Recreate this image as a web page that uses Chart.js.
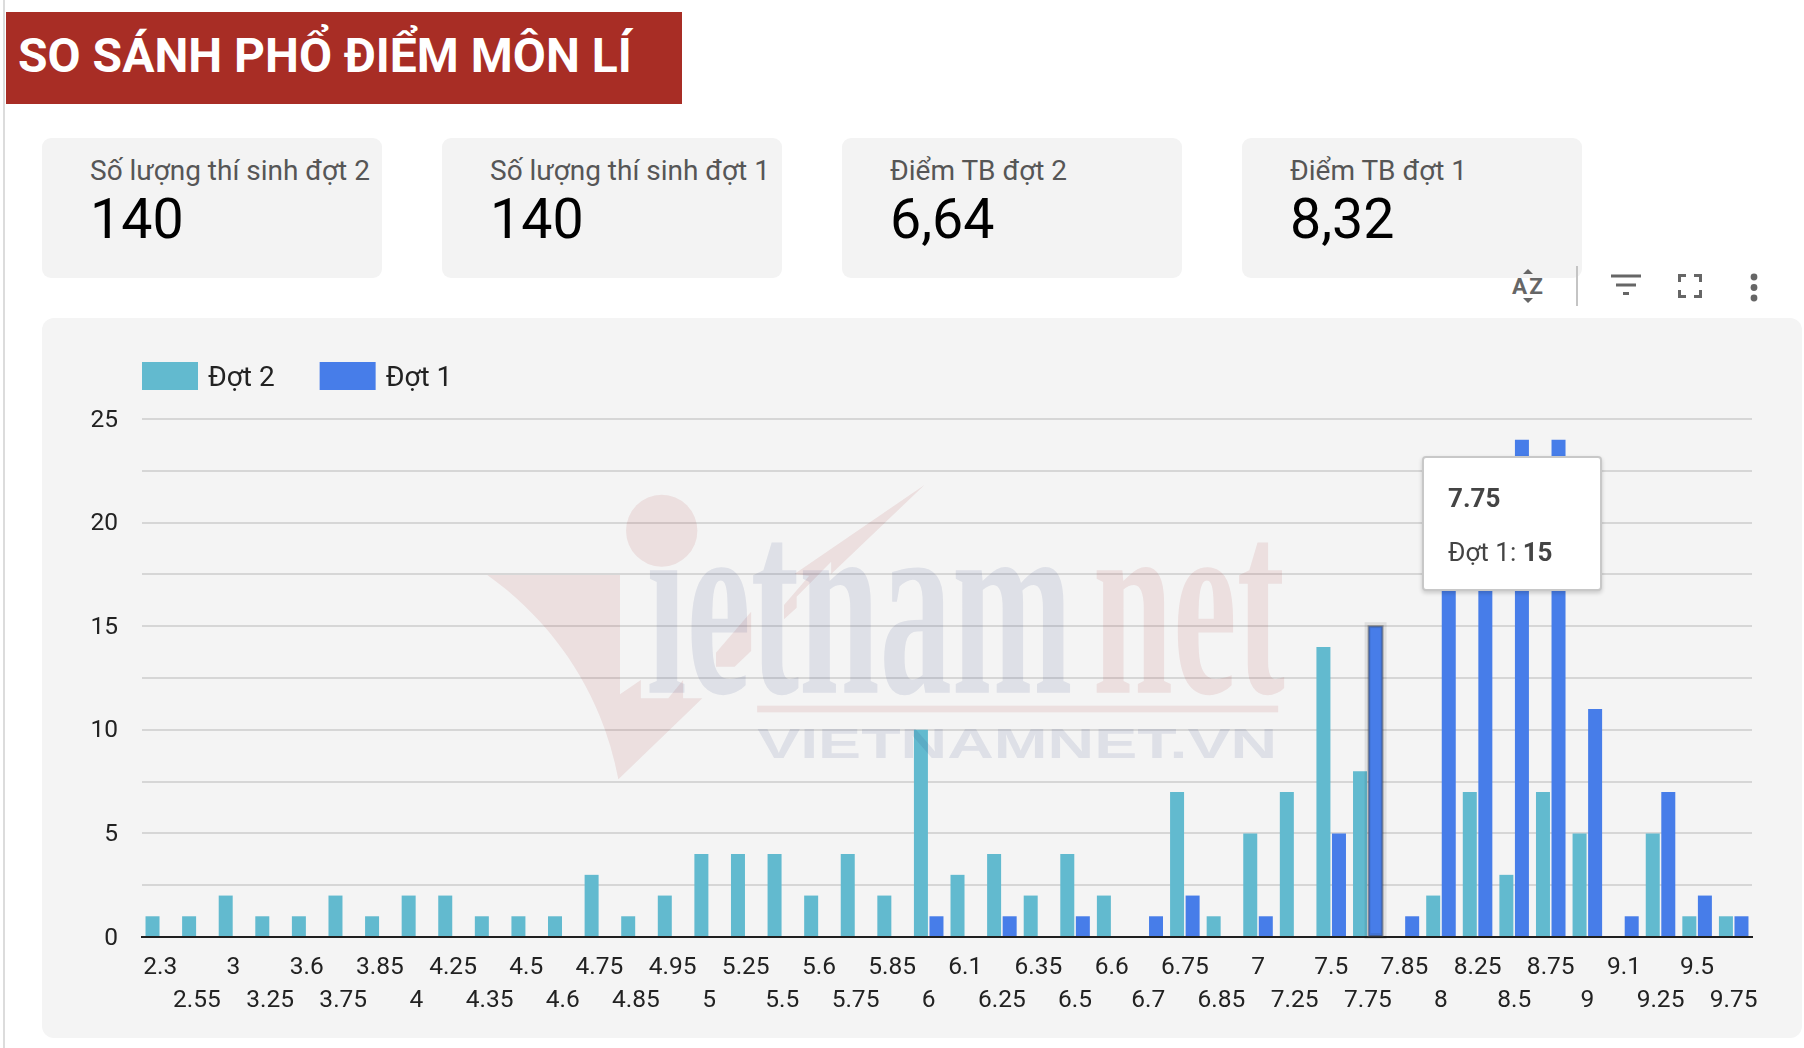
<!DOCTYPE html>
<html lang="vi">
<head>
<meta charset="utf-8">
<title>So sánh phổ điểm môn Lí</title>
<script src="https://cdn.jsdelivr.net/npm/chart.js@4"></script>
<style>
html,body{margin:0;padding:0;background:#fff;width:1804px;height:1048px;overflow:hidden;font-family:Roboto,sans-serif}
.abs{position:absolute}
#edge{left:3px;top:0;width:2px;height:1048px;background:#dcdcdc}
#title{left:6px;top:12px;width:676px;height:92px;background:#a82d25;color:#fff;font-weight:700;font-size:48px;line-height:88px;padding-left:12px;box-sizing:border-box;white-space:nowrap}
.card{top:138px;width:340px;height:140px;background:#f3f3f3;border-radius:9px}
.card .lab{position:absolute;left:48px;top:17px;font-size:28px;line-height:32px;color:#565656;white-space:nowrap}
.card .val{position:absolute;left:48px;top:51px;font-size:55.5px;line-height:62px;color:#000;white-space:nowrap}
#panel{left:42px;top:318px;width:1760px;height:720px;background:#f4f4f4;border-radius:12px}
#c{position:absolute;left:0;top:0}
#wm{left:450px;top:460px;width:860px;height:340px;pointer-events:none}
#tip{left:1422px;top:456px;width:180px;height:135px;box-sizing:border-box;background:#fff;border:2px solid #c8c8c8;border-radius:4px;box-shadow:0 2px 4px rgba(0,0,0,.18);color:#444;font-size:26px;line-height:30px}
#tip .t{position:absolute;left:24px;top:25px;font-weight:700}
#tip .b{position:absolute;left:24px;top:79px;white-space:nowrap}
#tools{left:1500px;top:256px;width:280px;height:60px}
</style>
</head>
<body>
<div class="abs" id="edge"></div>
<div class="abs" id="title">SO SÁNH PHỔ ĐIỂM MÔN LÍ</div>
<div class="abs card" style="left:42px"><div class="lab">Số lượng thí sinh đợt 2</div><div class="val">140</div></div>
<div class="abs card" style="left:442px"><div class="lab">Số lượng thí sinh đợt 1</div><div class="val">140</div></div>
<div class="abs card" style="left:842px"><div class="lab">Điểm TB đợt 2</div><div class="val">6,64</div></div>
<div class="abs card" style="left:1242px"><div class="lab">Điểm TB đợt 1</div><div class="val">8,32</div></div>
<svg class="abs" id="tools" viewBox="0 0 280 60">
  <g fill="#666">
    <text x="12" y="38" font-family="Roboto" font-weight="700" font-size="22.5" textLength="31" lengthAdjust="spacing">AZ</text>
    <path d="M23 18l5-5 5 5zM23 42h10l-5 5z"/>
    <rect x="76" y="10" width="2" height="40" fill="#c4c4c4"/>
    <rect x="111" y="18.5" width="30" height="3"/><rect x="116" y="27.5" width="20" height="3"/><rect x="123" y="36" width="6" height="3"/>
    <path d="M178 18h8v3h-5v5h-3zM194 18h8v8h-3v-5h-5zM178 34h3v5h5v3h-8zM199 34h3v8h-8v-3h5z"/>
    <circle cx="254" cy="21" r="3.4"/><circle cx="254" cy="31.5" r="3.4"/><circle cx="254" cy="42" r="3.4"/>
  </g>
</svg>
<div class="abs" id="panel"></div>
<canvas id="c" width="1804" height="1048"></canvas>
<svg class="abs" id="wm" viewBox="0 0 1568 1020" preserveAspectRatio="none">
  <g fill="rgba(170,40,40,.1)">
    <ellipse cx="386" cy="212" rx="65" ry="108"/>
    <path d="M68 345H310V703L348 660V715H398L425 660V715H460L307 958C280 720 200 500 68 345Z"/>
    <path d="M628 342L865 75L695 342V305L632 410V443L609 478V435L655 347Z"/>
    <path d="M549 455V573L519 620H485V578Z"/>
    <rect x="560" y="737" width="950" height="20"/>
    <text x="1172" y="698" font-family="Liberation Serif" font-weight="700" font-size="800" textLength="350" lengthAdjust="spacingAndGlyphs">net</text>
  </g>
  <g fill="rgba(30,50,120,.1)">
    <text x="358" y="698" font-family="Liberation Serif" font-weight="700" font-size="800" textLength="777" lengthAdjust="spacingAndGlyphs">ıetnam</text>
    <text x="560" y="895" font-family="Liberation Sans" font-weight="700" font-size="125" textLength="948" lengthAdjust="spacingAndGlyphs">VIETNAMNET.VN</text>
  </g>
</svg>
<div class="abs" id="tip"><div class="t"></div><div class="b"></div></div>
<script>
const categories = ['2.3','2.55','3','3.25','3.6','3.75','3.85','4','4.25','4.35','4.5','4.6','4.75','4.85','4.95','5','5.25','5.5','5.6','5.75','5.85','6','6.1','6.25','6.35','6.5','6.6','6.7','6.75','6.85','7','7.25','7.5','7.75','7.85','8','8.25','8.5','8.75','9','9.1','9.25','9.5','9.75'];
const dot2 = [1,1,2,1,1,2,1,2,2,1,1,1,3,1,2,4,4,4,2,4,2,10,3,4,2,4,2,0,7,1,5,7,14,8,0,2,7,3,7,5,0,5,1,1];
const dot1 = [0,0,0,0,0,0,0,0,0,0,0,0,0,0,0,0,0,0,0,0,0,1,0,1,0,1,0,1,2,0,1,0,5,15,1,21,21,24,24,11,1,7,2,1];
const seriesNames = ['Đợt 2','Đợt 1'];
const yTicksShown = [0,5,10,15,20,25];
const colors = ['#62bacf','#477de9'];
const activePoint = {datasetIndex:1,index:33};

const FONT='Roboto';
const legendFix={
  id:'legendFix',
  beforeLayout(chart){
    const lg=chart.legend;
    if(lg && !lg._patched){
      const f=lg.fit;
      lg.fit=function(){f.call(this);this.height=98;};
      const d=lg.draw;
      lg.draw=function(a){
        const c=this.ctx,ft=c.fillText;
        c.fillText=function(t,x,y,m){return m===undefined?ft.call(c,t,x-4,y+3):ft.call(c,t,x-4,y+3,m);};
        d.call(this,a);
        delete c.fillText;
      };
      lg._patched=true;
    }
  },
  beforeDraw(chart){chart.legend.left=101;}
};
const hoverHalo={
  id:'hoverHalo',
  afterDatasetsDraw(chart){
    const ctx=chart.ctx;
    chart.getActiveElements().forEach(a=>{
      const el=a.element,w=el.width,l=el.x-w/2,t=el.y,h=el.base-el.y;
      ctx.save();
      ctx.strokeStyle='rgba(0,0,0,.08)';ctx.lineWidth=6;ctx.strokeRect(l-1,t-1,w+2,h+1);
      ctx.strokeStyle='rgba(70,70,70,.45)';ctx.lineWidth=2;ctx.strokeRect(l,t,w,h);
      ctx.restore();
    });
  }
};
function renderTip(ctx){
  const m=ctx.tooltip,p=m.dataPoints&&m.dataPoints[0];
  if(!p)return;
  const tip=document.getElementById('tip');
  tip.querySelector('.t').textContent=p.label;
  const b=tip.querySelector('.b');
  b.textContent=p.dataset.label+': ';
  const s=document.createElement('b');s.textContent=p.raw;b.appendChild(s);
}
const chart=new Chart(document.getElementById('c'),{
  type:'bar',
  data:{labels:categories,datasets:[
    {label:seriesNames[0],data:dot2,backgroundColor:colors[0],hoverBackgroundColor:colors[0],borderWidth:0},
    {label:seriesNames[1],data:dot1,backgroundColor:colors[1],hoverBackgroundColor:colors[1],borderWidth:0}
  ]},
  options:{
    responsive:false,animation:false,
    categoryPercentage:.85,barPercentage:.9,
    layout:{padding:{top:321,right:52,bottom:0,left:0}},
    plugins:{
      legend:{position:'top',align:'start',
        labels:{boxWidth:56,boxHeight:28,padding:41,color:'#222',font:{family:FONT,size:28}}},
      tooltip:{enabled:false,external:renderTip,mode:'nearest',intersect:true}
    },
    scales:{
      x:{
        grid:{display:false,drawTicks:false},
        border:{display:true,color:'#1f1f1f',width:2},
        ticks:{autoSkip:false,maxRotation:0,minRotation:0,padding:15,color:'#222',
          font:{family:FONT,size:24.5,lineHeight:1.33},
          callback(v,i){const s=this.getLabelForValue(v);return i%2?['',s]:[s,''];}},
        afterFit(s){s.height=111;}
      },
      y:{
        min:0,max:25,
        grid:{color:'#d6d6d6',lineWidth:2,drawTicks:false},
        border:{display:false},
        ticks:{stepSize:2.5,padding:24,color:'#222',autoSkip:false,
          font:{family:FONT,size:24.5},
          callback(v){return yTicksShown.includes(v)?String(v):'';}},
        afterFit(s){
          s.width=142;
          if(!s._labelsNudged){
            const dl=s.drawLabels;
            s.drawLabels=function(a){this.ctx.save();this.ctx.translate(0,1.5);dl.call(this,a);this.ctx.restore();};
            s._labelsNudged=true;
          }
        }
      }
    }
  },
  plugins:[legendFix,hoverHalo]
});
chart.setActiveElements([activePoint]);
chart.tooltip.setActiveElements([activePoint],{x:0,y:0});
chart.render();
</script>
</body>
</html>
